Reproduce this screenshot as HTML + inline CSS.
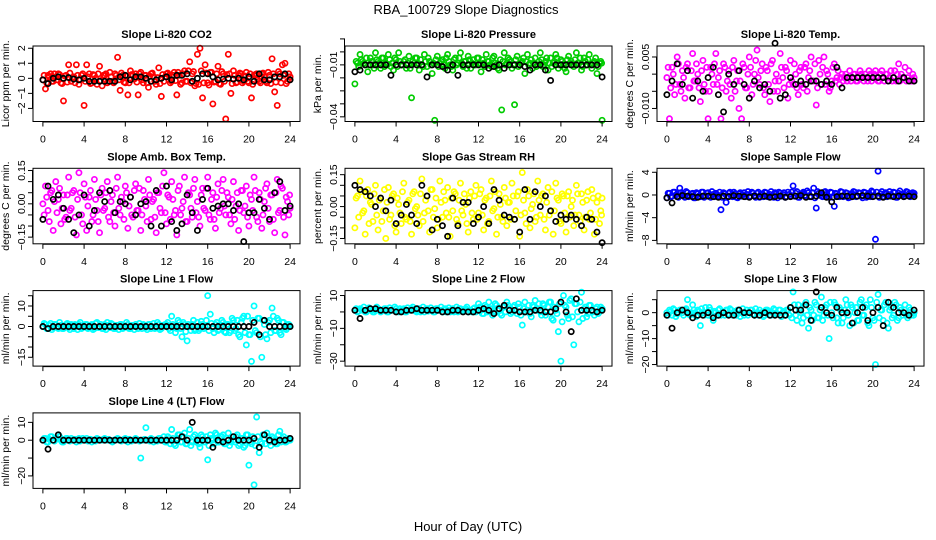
<!DOCTYPE html>
<html><head><meta charset="utf-8"><title>RBA_100729 Slope Diagnostics</title>
<style>
html,body{margin:0;padding:0;background:#fff;}
svg{display:block;font-family:"Liberation Sans",Arial,sans-serif;}
</style></head>
<body>
<svg id="chart" width="936" height="540" viewBox="0 0 936 540" xmlns="http://www.w3.org/2000/svg">
<text x="466" y="14" font-size="13" text-anchor="middle">RBA_100729  Slope Diagnostics</text>
<text x="468" y="531" font-size="13" text-anchor="middle">Hour of Day (UTC)</text>
</svg>
<script>
const hours = [0,0.25,0.5,0.75,1,1.25,1.5,1.75,2,2.25,2.5,2.75,3,3.25,3.5,3.75,4,4.25,4.5,4.75,5,5.25,5.5,5.75,6,6.25,6.5,6.75,7,7.25,7.5,7.75,8,8.25,8.5,8.75,9,9.25,9.5,9.75,10,10.25,10.5,10.75,11,11.25,11.5,11.75,12,12.25,12.5,12.75,13,13.25,13.5,13.75,14,14.25,14.5,14.75,15,15.25,15.5,15.75,16,16.25,16.5,16.75,17,17.25,17.5,17.75,18,18.25,18.5,18.75,19,19.25,19.5,19.75,20,20.25,20.5,20.75,21,21.25,21.5,21.75,22,22.25,22.5,22.75,23,23.25,23.5,23.75,24];
const bandHours = [0.12,0.37,0.62,0.87,1.12,1.37,1.62,1.87,2.12,2.37,2.62,2.87,3.12,3.37,3.62,3.87,4.12,4.37,4.62,4.87,5.12,5.37,5.62,5.87,6.12,6.37,6.62,6.87,7.12,7.37,7.62,7.87,8.12,8.37,8.62,8.87,9.12,9.37,9.62,9.87,10.12,10.37,10.62,10.87,11.12,11.37,11.62,11.87,12.12,12.37,12.62,12.87,13.12,13.37,13.62,13.87,14.12,14.37,14.62,14.87,15.12,15.37,15.62,15.87,16.12,16.37,16.62,16.87,17.12,17.37,17.62,17.87,18.12,18.37,18.62,18.87,19.12,19.37,19.62,19.87,20.12,20.37,20.62,20.87,21.12,21.37,21.62,21.87,22.12,22.37,22.62,22.87,23.12,23.37,23.62,23.87,23.95];
const blackHours = [0,0.5,1,1.5,2,2.5,3,3.5,4,4.5,5,5.5,6,6.5,7,7.5,8,8.5,9,9.5,10,10.5,11,11.5,12,12.5,13,13.5,14,14.5,15,15.5,16,16.5,17,17.5,18,18.5,19,19.5,20,20.5,21,21.5,22,22.5,23,23.5,24];
const xTicks = [0,4,8,12,16,20,24];

// Panel 1: CO2
const co2Values = [-0.1,-0.7,0.2,0.3,-0.2,0.1,0.3,-0.3,-1.5,0.2,0.9,-0.2, 0.1,0.9,-0.4,0.2,-1.8,0.9,0.3,-0.3,0.2,-0.4,0.8,-0.5, 0.2,-0.3,0.4,-0.2,0.3,1.4,-0.8,0.2,-0.3,-1.1,0.5,0.2, 0.3,-1.1,0.4,-0.3,0.2,-0.6,0.3,0.1,-0.4,0.7,-1.2,-0.2, 0.3,0.2,-0.2,0.4,-1.1,0.2,-0.3,0.5,-0.2,1.1,0.3,-0.5, 1.6,2.0,-1.3,0.9,-0.3,0.4,-1.7,-0.2,0.8,-0.4,0.3,-2.7, 1.6,-1.0,0.5,-0.3,0.2,0.3,-0.2,0.4,-0.3,-1.3,0.2,0.3, -0.2,0.3,0.1,-0.3,0.2,1.3,-0.9,-1.8,0.3,0.9,1.0,-0.2, 0.1];
const co2Band = [0.2,-0.3,0.1,-0.2,0.3,-0.1,0.25,-0.35,0.15,-0.25,0.35,0, -0.3,0.2,-0.1,0.3,-0.2,0.1,-0.35,0.25,0,0.3,-0.15,0.2, 0.3,-0.2,0.1,-0.3,0.2,-0.1,0.35,-0.25,0.15,-0.3,0.25,-0.05, -0.25,0.3,-0.1,0.2,-0.3,0.15,0.35,-0.2,0.05,-0.35,0.25,0.1, 0.35,-0.3,0.2,-0.15,0.4,-0.4,0.3,-0.2,0.5,-0.3,0.45,-0.35, -0.4,0.5,-0.3,0.35,-0.45,0.4,-0.25,0.3,-0.35,0.45,-0.2,0.25, 0.3,-0.35,0.2,-0.25,0.35,-0.3,0.15,-0.2,0.3,-0.4,0.25,-0.1, -0.3,0.35,-0.2,0.4,-0.35,0.3,-0.25,0.45,-0.3,0.2,-0.35,0.3, -0.1];
const co2Black = [-0.1,-0.35,0,0.1,0,0.05,-0.05, -0.1,0,-0.2,-0.2,-0.2,-0.2,-0.2, -0.2,0.1,0.2,-0.1,0.1,0.1,0, -0.2,-0.1,0,0.1,-0.1,0.2,0.2, 0.3,-0.2,0,0.3,0.3,0.1,-0.1, -0.05,0,-0.05,0,-0.1,0.1,-0.2, 0.3,-0.1,-0.1,0.1,0.1,0.3,-0.1];
const co2Ticks = [-2,-1,0,1,2];
const co2Labels = ["−2","−1","0","1","2"];

// Panel 2: pressure
const presValues = [-0.021,-0.009,-0.004,-0.008,-0.010,-0.014,-0.006,-0.010,-0.003,-0.008,-0.012,-0.006, -0.009,-0.004,-0.011,-0.013,-0.007,-0.003,-0.010,-0.008,-0.012,-0.005,-0.029,-0.009, -0.006,-0.013,-0.010,-0.004,-0.011,-0.008,-0.015,-0.042,-0.005,-0.009,-0.007,-0.012, -0.004,-0.010,-0.013,-0.006,-0.009,-0.003,-0.011,-0.008,-0.005,-0.012,-0.007,-0.010, -0.006,-0.014,-0.009,-0.004,-0.008,-0.011,-0.005,-0.010,-0.013,-0.036,-0.003,-0.009, -0.007,-0.012,-0.033,-0.005,-0.010,-0.008,-0.015,-0.004,-0.009,-0.012,-0.006,-0.010, -0.003,-0.011,-0.008,-0.013,-0.006,-0.009,-0.004,-0.012,-0.007,-0.010,-0.014,-0.005, -0.008,-0.011,-0.003,-0.009,-0.013,-0.006,-0.010,-0.004,-0.012,-0.008,-0.015,-0.009, -0.042];
const presBand = [-0.008,-0.011,-0.007,-0.009,-0.006,-0.010,-0.008,-0.012,-0.007,-0.009,-0.006,-0.011, -0.010,-0.007,-0.009,-0.006,-0.011,-0.008,-0.010,-0.007,-0.009,-0.012,-0.008,-0.006, -0.009,-0.007,-0.011,-0.008,-0.006,-0.010,-0.009,-0.007,-0.011,-0.008,-0.010,-0.006, -0.008,-0.011,-0.007,-0.010,-0.006,-0.009,-0.008,-0.012,-0.007,-0.009,-0.010,-0.006, -0.009,-0.007,-0.011,-0.008,-0.010,-0.006,-0.009,-0.012,-0.007,-0.008,-0.010,-0.006, -0.008,-0.010,-0.007,-0.011,-0.009,-0.006,-0.008,-0.010,-0.007,-0.009,-0.011,-0.008, -0.007,-0.010,-0.006,-0.009,-0.011,-0.008,-0.006,-0.010,-0.008,-0.012,-0.007,-0.009, -0.010,-0.007,-0.009,-0.006,-0.011,-0.008,-0.007,-0.010,-0.009,-0.006,-0.011,-0.008, -0.009];
const presBlack = [-0.014,-0.013,-0.010,-0.010,-0.010,-0.010,-0.010, -0.016,-0.010,-0.010,-0.010,-0.010,-0.010,-0.010, -0.017,-0.010,-0.010,-0.011,-0.013,-0.010,-0.016, -0.010,-0.010,-0.010,-0.010,-0.010,-0.012,-0.011, -0.010,-0.012,-0.010,-0.010,-0.010,-0.011,-0.013, -0.010,-0.010,-0.013,-0.019,-0.010,-0.010,-0.010, -0.010,-0.010,-0.010,-0.010,-0.010,-0.010,-0.017];
const presTicks = [0.0050,-0.0025,-0.0100,-0.0175,-0.0250,-0.0325,-0.0400];
const presLabels = ["","","−0.01","","","","−0.04"];

// Panel 3: Li-820 temp
const ltempValues = [-0.001,-0.013,0.002,-0.006,0.005,-0.003,0.001,-0.007,0.003,-0.004,0.006,-0.002, 0,-0.008,0.004,-0.005,-0.013,0.002,-0.003,0.006,-0.001,-0.013,0.003,-0.005, 0.001,-0.007,0.004,-0.002,-0.010,-0.013,0.002,-0.004,0.005,-0.006,0,0.007, -0.003,0.003,-0.006,0.001,-0.008,0.004,-0.002,-0.005,0.006,-0.001,0.002,-0.007, 0.004,-0.003,0,-0.006,0.002,-0.004,0.003,-0.001,0.005,-0.002,-0.009,0.004, -0.003,0.005,0.001,-0.005,-0.002,0.003,-0.001,-0.003,0,-0.001,-0.002,0.001, -0.001,0,-0.002,0.001,-0.001,0,-0.002,0,-0.001,0.001,-0.002,0, -0.001,0,-0.002,0.001,-0.001,-0.002,0.003,0,-0.001,-0.002,0.001,-0.002, -0.001];
const ltempBand = [0.002,-0.004,0,-0.003,0.003,-0.005,-0.001,0.002,-0.004,0.001,-0.002,0.003, -0.004,0.001,-0.003,0.002,-0.005,0,0.003,-0.003,0.001,-0.004,0.002,-0.002, -0.003,0.002,-0.005,0.001,-0.002,0.003,-0.004,0,0.002,-0.003,0.004,-0.001, 0.001,-0.004,0.002,-0.003,0.003,-0.005,0,-0.002,0.002,-0.004,0.001,-0.003, -0.002,0.003,-0.004,0.001,-0.003,0.002,-0.005,0.001,-0.002,0.003,-0.004,0, 0.002,-0.003,0,-0.004,0.002,-0.002,0.001,-0.001,-0.002,0,-0.001,-0.002, 0,-0.002,-0.001,0,-0.002,-0.001,0.001,-0.002,0,-0.001,-0.002,0.001, -0.002,0,-0.001,-0.002,0.001,0,-0.002,-0.001,0.002,-0.001,-0.002,0, -0.002];
const ltempBlack = [-0.006,-0.002,0.003,-0.003,0.001,-0.007,-0.002, -0.005,-0.001,0.002,-0.006,-0.011,0,-0.003, 0.001,-0.003,-0.007,-0.002,-0.004,-0.003,-0.005, 0.009,-0.007,-0.006,-0.001,-0.003,-0.002,-0.003, -0.002,-0.002,-0.003,-0.002,-0.003,0.002,-0.004, -0.001,-0.001,-0.001,-0.001,-0.001,-0.001,-0.001, -0.001,-0.002,-0.001,-0.002,-0.001,-0.002,-0.002];
const ltempTicks = [0.005,0,-0.005,-0.010];
const ltempLabels = ["0.005","","","−0.010"];

// Panel 4: ambient box temp
const ambValues = [0,0.08,-0.03,0.05,-0.12,0.10,0.02,-0.09,0.04,-0.06,0.12,-0.02, 0.06,-0.14,0.14,-0.05,0.09,-0.12,0.03,-0.08,0.11,-0.03,-0.13,0.07, -0.02,0.10,-0.08,0.04,-0.10,0.12,-0.05,0.01,0.08,-0.11,0.03,-0.06, 0.09,-0.03,-0.12,0.06,-0.01,0.11,-0.07,0.02,-0.13,0.05,-0.04,0.14, -0.09,0.03,0.10,-0.05,-0.14,0.08,-0.02,0.12,-0.08,0.04,-0.06,0.11, 0.01,-0.10,0.07,-0.03,0.12,-0.07,0.05,-0.11,0.09,-0.02,0.11,-0.05, 0.03,-0.09,0.10,-0.01,-0.12,0.06,-0.04,0.08,-0.10,0.02,0.12,-0.06, 0.05,-0.11,0.01,0.09,-0.08,0.04,-0.13,0.11,-0.03,0.07,-0.14,0.01, -0.02];
const ambBand = [-0.05,0.03,-0.08,0.06,0.01,-0.04,0.07,-0.02,-0.07,0.04,-0.03,0.05, -0.06,0.02,0.05,-0.09,0.03,-0.01,0.06,-0.05,0.02,-0.08,0.04,-0.03, 0.05,-0.06,0.01,-0.04,0.07,-0.02,0.03,-0.07,0.05,-0.01,-0.05,0.06, -0.03,0.07,-0.05,0.02,-0.08,0.04,0.01,-0.06,0.05,-0.02,0.08,-0.04, 0.04,-0.07,0.02,-0.03,0.06,-0.05,0.01,-0.08,0.05,-0.02,0.07,-0.04, -0.06,0.04,-0.02,0.07,-0.05,0.02,-0.07,0.03,-0.04,0.06,-0.01,0.05, -0.05,0.02,-0.07,0.05,-0.03,0.06,-0.01,-0.06,0.04,-0.03,0.06,-0.08, 0.02,-0.05,0.07,-0.02,0.04,-0.07,0.05,-0.04,0.08,-0.06,0.03,-0.05, 0.04];
const ambBlack = [-0.07,0.08,0.02,0.04,-0.02,-0.07,-0.13, -0.05,0.04,-0.10,-0.03,0.05,0.01,0.06, -0.04,0.01,0,0.03,-0.05,0,0.01, -0.10,0.06,-0.10,0.08,-0.08,-0.12,-0.09, 0.04,-0.04,-0.12,0.02,0.07,-0.02,-0.01, 0,0,-0.03,0,-0.17,-0.04,-0.04, 0.02,-0.02,-0.07,0.05,0.10,-0.03,-0.01];
const ambTicks = [0.15,0.10,0.05,0,-0.05,-0.10,-0.15];
const ambLabels = ["0.15","","","0.00","","","−0.15"];

// Panel 5: gas stream RH
const rhValues = [-0.10,0.05,0.12,-0.03,-0.13,0.08,0.02,-0.07,0.10,-0.11,0.04,-0.02, -0.15,0.09,-0.04,0.06,-0.12,0.01,-0.08,0.11,-0.06,0.03,-0.13,0.07, 0,-0.09,0.13,-0.03,0.05,-0.12,0.08,-0.01,-0.10,0.12,-0.05,0.03, 0.09,-0.14,-0.02,0.06,-0.08,0.11,-0.04,0.01,-0.12,0.07,-0.06,0.10, -0.03,0.08,-0.11,0.04,-0.07,0.12,-0.01,-0.13,0.06,-0.05,0.09,-0.09, 0.02,0.11,-0.06,0.05,-0.14,0.16,-0.03,0.08,-0.10,0.01,-0.07,0.12, -0.04,0.06,-0.11,0.09,-0.02,-0.13,0.11,0.03,-0.08,0.05,-0.12,0.07, 0,-0.09,0.10,-0.04,0.06,-0.11,0.03,-0.06,0.08,-0.13,0.02,-0.08, 0.04];
const rhBand = [0.04,-0.05,0.07,-0.02,0.05,-0.08,0.01,0.06,-0.04,0.03,-0.07,0.08, 0.02,-0.06,0.05,-0.09,0.04,-0.03,0.07,-0.05,0.02,-0.07,0.06,-0.01, -0.04,0.06,-0.07,0.03,-0.02,0.08,-0.05,0.04,-0.06,0.02,0.07,-0.03, -0.05,0.04,0.07,-0.06,0.03,-0.02,0.06,-0.08,0.04,-0.03,0.05,-0.06, 0.06,-0.04,0.03,-0.08,0.05,-0.02,0.07,-0.05,0.01,-0.07,0.04,0.02, -0.06,0.05,-0.02,0.07,-0.04,0.03,-0.08,0.05,-0.01,0.06,-0.05,0.03, 0.05,-0.06,0.02,-0.04,0.07,-0.02,0.04,-0.07,0.06,-0.03,0.05,-0.05, 0.03,-0.04,0.06,-0.07,0.02,-0.05,0.07,-0.03,0.04,-0.06,0.05,-0.02, -0.04];
const rhBlack = [0.10,0.08,0.07,0.05,0,0.04,-0.02, 0.03,-0.08,-0.04,0.01,-0.04,-0.08,0.10, 0.05,-0.11,-0.06,-0.09,-0.14,0.04,-0.09, 0.02,0.02,-0.08,-0.05,0,-0.08,0.08, 0.03,-0.04,-0.05,-0.06,-0.12,0.08,-0.06, 0.07,0,0.05,-0.02,-0.07,-0.04,-0.06, -0.04,-0.06,-0.09,-0.05,-0.06,-0.12,-0.17];
const rhTicks = [0.15,0.10,0.05,0,-0.05,-0.10,-0.15];
const rhLabels = ["0.15","","","0.00","","","−0.15"];

// Panel 6: sample flow
const sampleValues = [-0.5,0.3,-0.2,0.5,-0.3,1.2,0.1,-0.4,0.4,-0.1,0.3,-0.5, 0.2,-0.3,0.5,-0.2,0.4,-0.4,0.1,0.3,-0.2,-2.6,0.4,-1.3, 0.3,-0.1,0.5,-0.4,0.2,-0.2,0.4,0.1,-0.3,0.5,-0.1,0.3, -0.4,0.2,0.5,-0.3,0.1,-0.2,0.4,-0.5,0.3,0.1,-0.4,0.5, -0.2,1.6,0.3,-0.4,0.2,0.5,-0.1,0.4,-0.3,1.2,-2.3,0.3, -0.2,0.5,0.1,-0.4,0.4,-2.0,0.2,-0.3,0.5,-0.1,0.3,-0.4, 0.2,0.5,-0.2,0.3,-0.5,0.4,0.1,-0.3,0.5,-7.8,4.2,0.2, -0.3,0.4,0.1,-0.2,0.5,-0.4,0.3,0.1,-0.3,0.6,0.2,-0.1, 0.3];
const sampleBand = [0.3,-0.3,0.5,0,-0.4,0.4,-0.1,0.6,-0.3,0.2,-0.5,0.4, -0.2,0.5,-0.4,0.3,-0.1,0.6,-0.3,0.1,0.5,-0.4,0.2,-0.2, 0.5,-0.3,0.2,-0.5,0.4,0,-0.3,0.6,-0.2,0.3,-0.4,0.5, 0.1,-0.3,0.4,-0.1,0.6,-0.4,0.2,0.5,-0.2,0.4,-0.3,0.1, 0.5,-0.2,0.6,-0.4,0.3,-0.1,0.7,-0.3,0.4,-0.5,0.6,0, -0.3,0.6,-0.2,0.5,-0.4,0.3,-0.1,0.6,-0.3,0.4,-0.5,0.2, 0.6,-0.3,0.4,-0.2,0.5,-0.4,0.3,0.7,-0.2,0.5,-0.4,0.6, 0.2,-0.3,0.6,-0.1,0.4,-0.4,0.7,0,-0.2,0.5,-0.3,0.4, 0];
const sampleBlack = [-0.5,-1.4,-0.3,-0.1,-0.2,-0.3,-0.4, -0.2,-0.2,-0.3,-0.4,-0.2,-0.3,-0.1, -0.2,-0.3,-0.4,-0.2,-0.3,-0.2,-0.4, -0.3,-0.2,-0.4,-0.3,-0.2,-0.1,-0.4, -0.3,-0.2,0.4,-0.4,-1.2,-0.3,-0.2, -0.2,-0.3,-0.2,-0.1,-0.2,-0.3,-0.2, -0.4,-0.2,-0.3,-0.2,-0.3,-0.2,-0.3];
const sampleTicks = [4,0,-4,-8];
const sampleLabels = ["4","0","−4","−8"];

// Panel 7: line 1 flow
const l1Values = [0,1,-1,1.5,-0.5,1,-1,0.5,-1,1,-0.5,1, -1,0.5,1,-1,0,1,-0.5,1,-1,2,0,-1, 1,2,-0.5,1,-1,0.5,1,-1,0,1,-1,0.5, 1,-1,0,1,-0.5,1,-1,1.5,-0.5,1,-1,0.5, 1,-1,5,0,-1,2,-5,1,-7,0,1,-2, 2,-1,1,0,15,6,-1,1,-2,0,2,-3, 1,-2,3,-1,-4,2,5,-9,-4,-17,10,-3, 4,-15,1,-6,3,9,-2,4,-3,2,-1,1, 0];
const l1Band = [1.5,-1,0.5,-1.5,1,-0.5,2,-1,0,1.5,-1.5,0.5, 1,-1.5,2,-0.5,1,-1,0.5,-1.5,1.5,-0.5,1,-1, -1.5,0.5,1.5,-1,0.5,-1.5,1,-0.5,2,-1,0.5,-1.5, 0,1.5,-1,0.5,-1.5,1,0,-1,2,-1.5,0.5,1, 2,-2,1,-3,3,-1,2,-2.5,1,-2,3,-1.5, -2,2.5,-1,3,-2,1.5,-3,2,-1.5,3,-2.5,1, -3,4,-2,3,-5,4,-3,5,-4,3,-2,4, -5,3,-4,2,-3,5,-2,3,-4,2,-1.5,1, 0.5];
const l1Black = [0,-1,0,0,0,0,0, 0,0,0,0,0,0,0, 0,0,0,0,0,0,0, 0,0,0,0,0,0,0, 0,0,0,0,0,0,0, 0,0,0,0,0,0,2, -4,3,0,0,0,0,0];
const l1Ticks = [15,10,5,0,-5,-10,-15];
const l1Labels = ["","10","","0","","","−15"];

// Panel 8: line 2 flow
const l2Values = [1,0,2,1,0,1,2,0,1,2,0,1, 2,0,1,1,2,0,1,2,0,1,2,1, 0,2,1,0,2,1,1,0,2,1,0,2, 1,0,2,1,0,2,1,2,0,1,2,0, 5,1,-1,3,6,2,0,4,1,-2,3,6, 2,0,4,-1,3,-8,6,1,-1,4,7,2, 0,5,-2,3,6,-5,1,-12,-30,10,3,-4, 8,-20,5,-6,12,2,-3,4,1,-2,3,0, 2];
const l2Band = [2,0.5,1.5,3,0,2.5,1,0,3,1.5,0.5,2, 0,2.5,1,3,0.5,2,1.5,0,2.5,1,3,0.5, 2,0,3,1.5,0.5,2.5,0,2,1,3,1.5,0, 2.5,1,0,3,2,0.5,1.5,3,1,0,2.5,1.5, 3,-1,4,0,2,-2,5,1,-1,3,0,4, -1,3,1,5,-2,2,0,4,-3,3,1,5, -2,4,0,6,-4,3,-1,5,-6,4,-2,7, -3,5,0,6,-4,3,-1,4,0,2,-1,3, 1];
const l2Black = [1,-4,1,2,2,1,1, 1,0,0,1,1,2,1, 1,1,1,0,0,1,1, 0,0,0,1,2,1,-1, 2,4,1,1,0,0,0, 1,1,0,0,2,6,0, -12,8,1,1,1,0,1];
const l2Ticks = [10,0,-10,-20,-30];
const l2Labels = ["10","","−10","","−30"];

// Panel 9: line 3 flow
const l3Values = [0,1,-1,1,-0.5,1,0,1,5,-1,3,0, 1,-5,0,2,-1,1,-3,0,1,-1,0,1, -0.5,1,0,-1,1,0,-1,1,0,1,-1,0, 1,0,-1,1,-1,0,1,-0.5,1,0,-1,1, 2,8,-1,3,0,-2,4,-6,1,-1,3,-2, 6,-1,3,-10,0,4,-2,2,-4,1,3,-5, 2,0,-3,4,-1,2,-4,5,-2,-20,7,1, -3,4,-6,2,-1,3,-2,1,0,-1,2,-1, 0];
const l3Band = [-1,0.5,1.5,-1.5,0,1,-1,1.5,-0.5,0,1,-1.5, 0.5,1.5,-1,0,2,-1.5,0.5,-1,1.5,0,-1,1, 1.5,-1,0.5,1,-1.5,1.5,0,-1,1,-0.5,1.5,-1, 0,-1.5,1,0.5,-1,1.5,-0.5,1,-1.5,0.5,1,-1, -2,3,-3,1,-4,3,-1,2,-3,4,-2,1, -3,2,-1,4,-2,3,-4,1,-2,5,-1,3, -4,2,-3,5,-1,3,-5,2,-3,4,-2,1, 3,-4,1,-2,4,-3,2,-1,3,-2,1,0, -1];
const l3Black = [-1,-6,0,1,0,-2,-1, -1,0,-2,-1,0,-1,-1, 1,0,0,-1,-1,0,-1, -1,-1,-1,2,1,1,3, -3,8,2,0,-1,2,0, 0,-4,0,2,-3,0,2, -5,4,2,0,0,-1,1];
const l3Ticks = [5,0,-5,-10,-15,-20];
const l3Labels = ["","0","","−10","","−20"];

// Panel 10: line 4 (LT) flow
const l4Values = [0,1,-1,2,0,1,3,0,-1,1,0,1, 0,-1,1,0,0,1,0,-1,0,1,0,0, 1,0,0,-1,0,1,0,0,1,-1,0,0, 1,0,-10,0,7,0,1,-1,0,1,0,2, -1,1,6,-2,1,3,-1,4,-2,6,-1,3, 1,-4,2,-1,-11,3,0,4,-1,2,3,-2, 4,-1,0,2,-3,1,-4,3,-14,-2,-25,13, -7,-2,1,4,-1,2,0,-2,5,1,-1,0, 0];
const l4Band = [1,-1,0.5,2,-0.5,1,2,-1,0.5,1,-0.5,0, 0.5,0,-0.5,1,0,-0.5,0.5,0,-0.5,0.5,0,0.5, 0,0.5,-0.5,0,0.5,0,-0.5,0.5,0,0.5,-0.5,0, 0.5,-0.5,0,0.5,0,-0.5,0.5,0,-0.5,1,0,-1, 2,-2,1,-3,3,-1,2,-2,1,-3,2,-1, -2,3,-1,2,-3,1,-2,3,-1,2,-2,1, -3,2,-1,3,-2,1,-3,3,-1,2,-3,2, -1,3,-2,2,-3,1,-2,3,-1,2,-1,1, 0];
const l4Black = [0,-5,0,3,0,0,0, 0,0,0,0,0,0,0, 0,0,0,0,0,0,0, 0,0,0,0,0,0,2, 0,10,0,0,0,-4,0, -1,0,2,0,0,0,1, -4,3,0,-1,0,0,1];
const l4Ticks = [10,0,-10,-20];
const l4Labels = ["10","0","","−20"];

const panels = [
 {id:'co2',col:0,row:0,title:'Slope Li-820 CO2',ylab:'Licor ppm per min.',top:2.15,bot:-2.87,color:'#ff0000',vals:co2Values,band:co2Band,blk:co2Black,ticks:co2Ticks,labels:co2Labels},
 {id:'pressure',col:1,row:0,title:'Slope Li-820 Pressure',ylab:'kPa per min.',top:0.0009,bot:-0.0427,color:'#00cc00',vals:presValues,band:presBand,blk:presBlack,ticks:presTicks,labels:presLabels},
 {id:'li820-temp',col:2,row:0,title:'Slope Li-820 Temp.',ylab:'degrees C per min.',top:0.0082,bot:-0.0138,color:'#ff00ff',vals:ltempValues,band:ltempBand,blk:ltempBlack,ticks:ltempTicks,labels:ltempLabels},
 {id:'amb-box-temp',col:0,row:1,title:'Slope Amb. Box Temp.',ylab:'degrees C per min.',top:0.16,bot:-0.18,color:'#ff00ff',vals:ambValues,band:ambBand,blk:ambBlack,ticks:ambTicks,labels:ambLabels},
 {id:'gas-stream-rh',col:1,row:1,title:'Slope Gas Stream RH',ylab:'percent per min.',top:0.18,bot:-0.175,color:'#ffff00',vals:rhValues,band:rhBand,blk:rhBlack,ticks:rhTicks,labels:rhLabels},
 {id:'sample-flow',col:2,row:1,title:'Slope Sample Flow',ylab:'ml/min per min.',top:4.7,bot:-8.6,color:'#0000ff',vals:sampleValues,band:sampleBand,blk:sampleBlack,ticks:sampleTicks,labels:sampleLabels},
 {id:'line1-flow',col:0,row:2,title:'Slope Line 1 Flow',ylab:'ml/min per min.',top:17.5,bot:-19.3,color:'#00ffff',vals:l1Values,band:l1Band,blk:l1Black,ticks:l1Ticks,labels:l1Labels},
 {id:'line2-flow',col:1,row:2,title:'Slope Line 2 Flow',ylab:'ml/min per min.',top:13,bot:-33,color:'#00ffff',vals:l2Values,band:l2Band,blk:l2Black,ticks:l2Ticks,labels:l2Labels},
 {id:'line3-flow',col:2,row:2,title:'Slope Line 3 Flow',ylab:'ml/min per min.',top:8.5,bot:-20.6,color:'#00ffff',vals:l3Values,band:l3Band,blk:l3Black,ticks:l3Ticks,labels:l3Labels},
 {id:'line4-flow',col:0,row:3,title:'Slope Line 4 (LT) Flow',ylab:'ml/min per min.',top:15.3,bot:-27,color:'#00ffff',vals:l4Values,band:l4Band,blk:l4Black,ticks:l4Ticks,labels:l4Labels}
];

const NS='http://www.w3.org/2000/svg';
const svg=document.getElementById('chart');
function mk(tag,attrs,parent){const e=document.createElementNS(NS,tag);for(const k in attrs)e.setAttribute(k,attrs[k]);(parent||svg).appendChild(e);return e;}

panels.forEach(p=>{
  const x0=33+p.col*312, w=267, y0=46+p.row*122.3, h=75.5;
  const xs=v=>x0+(v+0.96)/25.92*w;
  const ys=v=>y0+(p.top-v)/(p.top-p.bot)*h;
  const g=mk('g',{});
  
  
  const t=mk('text',{x:x0+w/2,y:y0-8,'font-size':11,'font-weight':'bold','text-anchor':'middle'},g);
  t.textContent=p.title;
  
  
  const sg=mk('g',{},g);
  
  
  p.band.forEach((v,i)=>{
    const c=mk('circle',{cx:xs(bandHours[i]),cy:ys(v),r:2.6,fill:'none',stroke:p.color,'stroke-width':1.7},sg);
    
    
  });
  p.vals.forEach((v,i)=>{
    const c=mk('circle',{cx:xs(hours[i]),cy:ys(v),r:2.6,fill:'none',stroke:p.color,'stroke-width':1.7},sg);
    
    
  });
  p.blk.forEach((v,i)=>{
    const c=mk('circle',{cx:xs(blackHours[i]),cy:ys(v),r:2.6,fill:'none',stroke:'#000','stroke-width':1.7},sg);
    
    
  });
  const box=mk('rect',{x:x0,y:y0,width:w,height:h,fill:'none',stroke:'#000','stroke-width':1},g);
  
  
  const xa=mk('g',{},g);
  
  
  const yb=y0+h;
  mk('line',{x1:xs(xTicks[0]),x2:xs(xTicks[xTicks.length-1]),y1:yb+0.5,y2:yb+0.5,stroke:'#000'},xa);
  xTicks.forEach(tv=>{
    mk('line',{x1:xs(tv),x2:xs(tv),y1:yb,y2:yb+5,stroke:'#000'},xa);
    const l=mk('text',{x:xs(tv),y:yb+21,'font-size':10.5,'text-anchor':'middle'},xa);
    l.textContent=String(tv);
  });
  const ya=mk('g',{},g);
  
  
  const ty=p.ticks.map(ys);
  mk('line',{x1:x0-0.5,x2:x0-0.5,y1:Math.min(...ty),y2:Math.max(...ty),stroke:'#000'},ya);
  p.ticks.forEach((tv,i)=>{
    const yy=ys(tv);
    mk('line',{x1:x0-5,x2:x0,y1:yy,y2:yy,stroke:'#000'},ya);
    if(p.labels[i]){
      const l=mk('text',{x:x0-8,y:yy,'font-size':10.5,'text-anchor':'middle',transform:`rotate(-90 ${x0-8} ${yy})`},ya);
      l.textContent=p.labels[i];
    }
  });
  const yl=mk('text',{x:x0-24,y:y0+h/2,'font-size':10.5,'text-anchor':'middle',transform:`rotate(-90 ${x0-24} ${y0+h/2})`},g);
  yl.textContent=p.ylab;
  
  
});
</script>
</body></html>
